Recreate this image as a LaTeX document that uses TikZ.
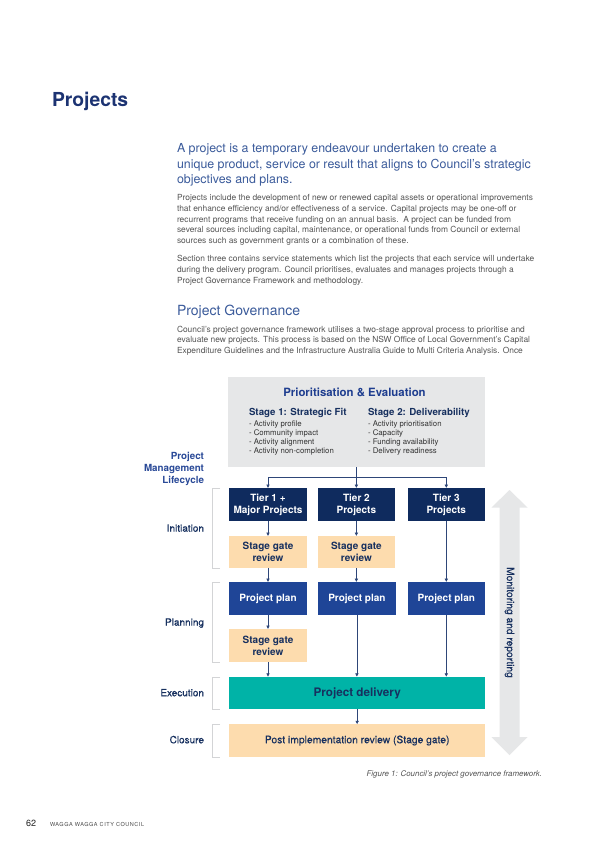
\documentclass[tikz,border=0pt]{standalone}
\usepackage{fontspec}
\setmainfont{TeX Gyre Heros}
\usetikzlibrary{arrows.meta}
\definecolor{titleblue}{HTML}{1C3372}
\definecolor{introblue}{HTML}{3B5B9B}
\definecolor{bodygray}{HTML}{555555}
\definecolor{boxgray}{HTML}{E6E7E8}
\definecolor{tierblue}{HTML}{0F2B5E}
\definecolor{planblue}{HTML}{1F4597}
\definecolor{peach}{HTML}{FDDCAE}
\definecolor{tealc}{HTML}{00B3A7}
\definecolor{navytext}{HTML}{17305F}
\definecolor{lineblue}{HTML}{2E4678}
\definecolor{brgray}{HTML}{D3D4D6}
\definecolor{lifeblue}{HTML}{2A4A98}
\definecolor{pevblue}{HTML}{1E3D8F}
\newfontfamily\medfont[FakeBold=0.35]{TeX Gyre Heros}
\tikzset{
  txt/.style={inner sep=0pt, outer sep=0pt},
  para/.style={txt, anchor=north west, align=left, text=bodygray, font=\fontsize{8.4}{10.7}\selectfont},
  tier/.style={fill=tierblue, text=white, font=\bfseries\fontsize{10}{12}\selectfont, align=center, minimum width=77.4pt, minimum height=33pt, inner sep=0pt},
  plan/.style={tier, fill=planblue},
  gate/.style={tier, fill=peach, text=navytext},
  wide/.style={minimum width=255.7pt, minimum height=32.5pt, inner sep=0pt, align=center},
  conn/.style={draw=lineblue, line width=0.7pt},
  arr/.style={conn, -{Triangle[length=3.2pt,width=3.2pt]}},
  lab/.style={txt, anchor=base east, text=navytext, font=\medfont\fontsize{10}{12}\selectfont},
  bracket/.style={draw=brgray, line width=0.8pt},
}
\begin{document}
\begin{tikzpicture}[x=1pt,y=-1pt]
\useasboundingbox[fill=white] (0,0) rectangle (599,848);

% page text
\node[txt, anchor=base west, text=titleblue, font=\bfseries\fontsize{19.3}{22}\selectfont] (title) at (52,107) {Projects};
\node[txt, anchor=north west, align=left, text=introblue, font=\fontsize{12.4}{15.5}\selectfont] (intro) at (177,143.6)
 {A project is a temporary endeavour undertaken to create a\\unique product, service or result that aligns to Council’s strategic\\objectives and plans.};
\node[para] (p1) at (177,194.6)
 {Projects include the development of new or renewed capital assets or operational improvements\\that enhance efficiency and/or effectiveness of a service. Capital projects may be one-off or\\recurrent programs that receive funding on an annual basis.\ \ A project can be funded from\\several sources including capital, maintenance, or operational funds from Council or external\\sources such as government grants or a combination of these.};
\node[para] (p2) at (177,255.4)
 {Section three contains service statements which list the projects that each service will undertake\\during the delivery program. Council prioritises, evaluates and manages projects through a\\Project Governance Framework and methodology.};
\node[txt, anchor=base west, text=introblue, font=\fontsize{14}{16}\selectfont] (pg) at (177,315) {Project Governance};
\node[para] (p3) at (177,326)
 {Council’s project governance framework utilises a two-stage approval process to prioritise and\\evaluate new projects. This process is based on the NSW Office of Local Government’s Capital\\Expenditure Guidelines and the Infrastructure Australia Guide to Multi Criteria Analysis. Once};

% prioritisation box
\node[fill=boxgray, minimum width=256.7pt, minimum height=90pt, inner sep=0pt] (pe) at (356.65,422) {};
\node[txt, anchor=base, text=pevblue, font=\bfseries\fontsize{11.4}{13}\selectfont] (pet) at (354.5,396) {Prioritisation \& Evaluation};
\node[txt, anchor=base west, text=navytext, font=\bfseries\fontsize{9.7}{11}\selectfont] (s1) at (249,415.7) {Stage 1: Strategic Fit};
\node[txt, anchor=base west, text=navytext, font=\bfseries\fontsize{9.7}{11}\selectfont] (s2) at (368,415.7) {Stage 2: Deliverability};
\node[txt, anchor=north west, align=left, text=black!80, font=\fontsize{7.8}{9}\selectfont] (b1) at (249,420.4)
 {- Activity profile\\- Community impact\\- Activity alignment\\- Activity non-completion};
\node[txt, anchor=north west, align=left, text=black!80, font=\fontsize{7.8}{9}\selectfont] (b2) at (368,420.4)
 {- Activity prioritisation\\- Capacity\\- Funding availability\\- Delivery readiness};

% lifecycle labels
\node[txt, anchor=north east, align=right, text=lifeblue, font=\bfseries\fontsize{9.8}{12}\selectfont] (plc) at (204,452)
 {Project\\Management\\Lifecycle};
\node[lab] (lini) at (204,531.7) {Initiation};
\node[lab] (lpla) at (204,625.7) {Planning};
\node[lab] (lexe) at (204,696.3) {Execution};
\node[lab] (lclo) at (204,743.3) {Closure};

% brackets
\draw[bracket] (220,488) -- (212.5,488) -- (212.5,568) -- (220,568);
\draw[bracket] (220,582) -- (212.5,582) -- (212.5,662) -- (220,662);
\draw[bracket] (220,677) -- (212.5,677) -- (212.5,709) -- (220,709);
\draw[bracket] (220,724) -- (212.5,724) -- (212.5,757) -- (220,757);

% monitoring arrow
\path[fill=boxgray] (509.5,490) -- (527.5,507.5) -- (519.5,507.5) -- (519.5,737) -- (527.5,737)
  -- (509.5,755) -- (491.5,737) -- (499.5,737) -- (499.5,507.5) -- (491.5,507.5) -- cycle;
\node[txt, rotate=-90, text=navytext, font=\medfont\fontsize{10.2}{12}\selectfont] (mon) at (509.5,622.5) {Monitoring and reporting};

% boxes
\node[tier] (t1) at (268,504.5) {Tier 1 +\\Major Projects};
\node[tier] (t2) at (356.4,504.5) {Tier 2\\Projects};
\node[tier] (t3) at (446.3,504.5) {Tier 3\\Projects};
\node[gate, minimum height=32pt] (g1) at (268,552) {Stage gate\\review};
\node[gate, minimum height=32pt] (g2) at (356.4,552) {Stage gate\\review};
\node[plan] (pp1) at (268,598.5) {Project plan};
\node[plan] (pp2) at (356.9,598.5) {Project plan};
\node[plan] (pp3) at (446.3,598.5) {Project plan};
\node[gate] (g3) at (268,645.5) {Stage gate\\review};
\node[wide, fill=tealc, text=navytext, font=\bfseries\fontsize{11.7}{13}\selectfont] (del) at (357.15,693) {Project delivery};
\node[wide, fill=peach, text=navytext, font=\medfont\fontsize{10.3}{12}\selectfont] (pir) at (357.15,740.5) {Post implementation review (Stage gate)};

% connectors
\coordinate (hub) at (356.4,477);
\draw[conn] (pe.south -| hub) -- (hub);
\draw[conn] (t1.north |- hub) -- (t3.north |- hub);
\draw[arr] (t1.north |- hub) -- (t1.north);
\draw[arr] (hub) -- (t2.north);
\draw[arr] (t3.north |- hub) -- (t3.north);
\draw[arr] (t1) -- (g1);
\draw[arr] (t2) -- (g2);
\draw[arr] (g1) -- (pp1);
\draw[arr] (g2.south) -- (g2.south |- pp2.north);
\draw[arr] (t3) -- (pp3);
\draw[arr] (pp1) -- (g3);
\draw[arr] (g3.south) -- (g3.south |- del.north);
\draw[arr] (pp2.south) -- (pp2.south |- del.north);
\draw[arr] (pp3.south) -- (pp3.south |- del.north);
\draw[arr] (del.south) -- (pir.north);

% caption and footer
\node[txt, anchor=base east, text=bodygray, font=\itshape\fontsize{7.9}{9}\selectfont] (cap) at (542,776) {Figure 1: Council’s project governance framework.};
\node[txt, anchor=base west, text=black!85, font=\fontsize{9}{10}\selectfont] (pgno) at (26,826) {62};
\node[txt, anchor=base west, text=black!70, font=\fontsize{5.5}{6}\selectfont\addfontfeature{LetterSpace=10}] (foot) at (50,826) {WAGGA WAGGA CITY COUNCIL};
\end{tikzpicture}
\end{document}
